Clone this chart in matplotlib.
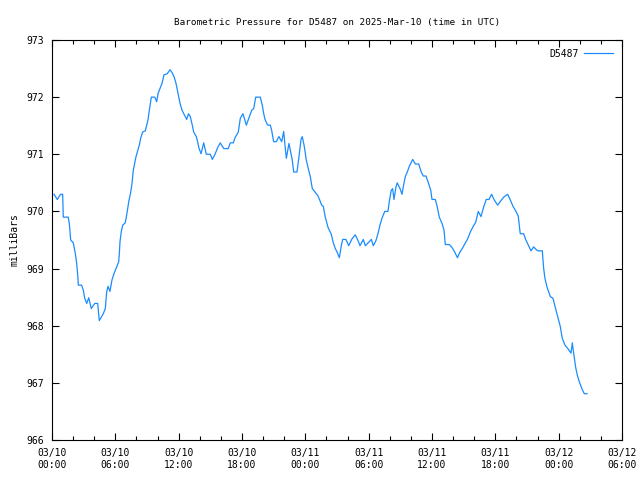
import pandas as pd
import matplotlib
matplotlib.use('Agg')
import matplotlib.pyplot as plt
import matplotlib.dates as mdates

# hours after 2025-03-10 00:00 UTC, and pressure in mb
hours = [0.19, 0.50, 0.82, 1.01, 1.07, 1.54, 1.64, 1.77, 2.02, 2.21, 2.34, 2.46, 2.49, 2.81,
         2.97, 3.10, 3.29, 3.48, 3.72, 4.05, 4.33, 4.42, 4.48, 4.86, 5.05, 5.18, 5.31, 5.49,
         5.68, 5.87, 6.13, 6.32, 6.38, 6.44, 6.56, 6.70, 6.94, 7.13, 7.27, 7.46, 7.58, 7.70,
         7.83, 7.96, 8.08, 8.27, 8.40, 8.59, 8.84, 8.97, 9.09, 9.22, 9.41, 9.73, 9.92, 10.04,
         10.23, 10.42, 10.61, 10.92, 11.18, 11.37, 11.56, 11.75, 11.94, 12.13, 12.32, 12.57,
         12.76, 12.93, 13.10, 13.29, 13.42, 13.67, 13.80, 13.93, 14.12, 14.37, 14.62, 15.00,
         15.19, 15.44, 15.70, 15.94, 16.27, 16.70, 16.89, 17.18, 17.34, 17.65, 17.84, 18.09,
         18.41, 18.66, 18.92, 19.11, 19.30, 19.73, 19.92, 20.06, 20.18, 20.43, 20.68, 20.81,
         21.00, 21.25, 21.50, 21.76, 21.95, 22.07, 22.20, 22.45, 22.58, 22.76, 22.90, 23.21,
         23.40, 23.59, 23.71, 23.90, 24.09, 24.28, 24.47, 24.66, 24.91, 25.17, 25.36, 25.55,
         25.70, 25.89, 26.15, 26.46, 26.65, 26.84, 27.03, 27.22, 27.41, 27.54, 27.85, 28.11,
         28.42, 28.73, 28.99, 29.18, 29.49, 29.68, 30.00, 30.25, 30.44, 30.69, 30.88, 31.07,
         31.26, 31.52, 31.83, 31.95, 32.14, 32.27, 32.40, 32.59, 32.71, 32.97, 33.16, 33.28,
         33.47, 33.66, 33.85, 34.17, 34.42, 34.74, 34.98, 35.17, 35.43, 35.62, 35.88, 36.00,
         36.31, 36.50, 36.69, 36.95, 37.14, 37.26, 37.64, 37.89, 38.15, 38.41, 38.65, 38.87,
         39.13, 39.38, 39.63, 39.88, 40.14, 40.38, 40.64, 40.90, 41.14, 41.40, 41.65, 41.90,
         42.22, 42.53, 42.85, 43.17, 43.42, 43.67, 43.93, 44.17, 44.36, 44.68, 44.87, 45.12,
         45.38, 45.63, 45.88, 46.07, 46.45, 46.58, 46.70, 46.89, 47.21, 47.46, 47.65, 47.91,
         48.15, 48.34, 48.60, 48.91, 49.17, 49.29, 49.42, 49.62, 49.80, 49.99, 50.24, 50.43,
         50.68]
pressure = [970.30, 970.21, 970.30, 970.30, 969.90, 969.90, 969.79, 969.50, 969.45, 969.26,
            969.09, 968.83, 968.71, 968.71, 968.62, 968.48, 968.39, 968.49, 968.30, 968.39,
            968.39, 968.21, 968.09, 968.21, 968.30, 968.59, 968.69, 968.60, 968.80, 968.91,
            969.03, 969.12, 969.26, 969.47, 969.64, 969.76, 969.80, 970.00, 970.17, 970.34,
            970.49, 970.72, 970.84, 970.96, 971.04, 971.16, 971.28, 971.39, 971.41, 971.51,
            971.60, 971.77, 972.00, 972.00, 971.92, 972.06, 972.15, 972.24, 972.39, 972.41,
            972.48, 972.43, 972.36, 972.24, 972.06, 971.89, 971.77, 971.68, 971.61, 971.71,
            971.66, 971.51, 971.39, 971.31, 971.22, 971.10, 971.01, 971.20, 971.00, 971.00,
            970.91, 971.00, 971.12, 971.20, 971.10, 971.10, 971.20, 971.20, 971.29, 971.39,
            971.63, 971.71, 971.51, 971.64, 971.77, 971.80, 972.00, 972.00, 971.86, 971.71,
            971.61, 971.51, 971.51, 971.42, 971.22, 971.22, 971.31, 971.22, 971.40, 971.16,
            970.93, 971.19, 971.07, 970.90, 970.69, 970.69, 970.96, 971.26, 971.31, 971.14,
            970.90, 970.75, 970.61, 970.40, 970.34, 970.28, 970.20, 970.11, 970.09, 969.90,
            969.72, 969.60, 969.45, 969.35, 969.28, 969.19, 969.40, 969.51, 969.51, 969.40,
            969.52, 969.59, 969.49, 969.40, 969.51, 969.40, 969.46, 969.51, 969.40, 969.49,
            969.61, 969.76, 969.88, 970.00, 970.00, 970.17, 970.37, 970.40, 970.21, 970.43,
            970.50, 970.40, 970.30, 970.43, 970.61, 970.69, 970.79, 970.91, 970.83, 970.83,
            970.69, 970.62, 970.62, 970.52, 970.37, 970.21, 970.21, 970.08, 969.90, 969.79,
            969.67, 969.42, 969.42, 969.37, 969.29, 969.19, 969.29, 969.35, 969.44, 969.52,
            969.64, 969.73, 969.81, 970.00, 969.91, 970.08, 970.21, 970.21, 970.30, 970.20,
            970.11, 970.19, 970.26, 970.30, 970.20, 970.09, 970.01, 969.92, 969.61, 969.61,
            969.51, 969.41, 969.31, 969.38, 969.33, 969.31, 969.31, 969.00, 968.83, 968.68,
            968.51, 968.48, 968.34, 968.16, 967.99, 967.78, 967.66, 967.59, 967.52, 967.70,
            967.52, 967.26, 967.11, 967.00, 966.88, 966.81, 966.81]

station = 'D5487'
start = pd.Timestamp('2025-03-10 00:00')
end = pd.Timestamp('2025-03-12 06:00')
times = start + pd.to_timedelta(hours, unit='h')

plt.rcParams['font.family'] = ['DejaVu Sans Mono']
plt.rcParams['font.size'] = 7

fig, ax = plt.subplots(figsize=(6.4, 4.8), dpi=100)
fig.subplots_adjust(left=52/640, right=622/640, top=1-40/480, bottom=1-440/480)

ax.plot(times, pressure, color='#1a8cff', linewidth=0.9, label=station)

ax.set_xlim(start, end)
ax.set_ylim(966, 973)
ax.set_yticks(range(966, 974))
ax.xaxis.set_major_locator(mdates.HourLocator(byhour=[0, 6, 12, 18]))
ax.xaxis.set_minor_locator(mdates.HourLocator(interval=2))
ax.xaxis.set_major_formatter(mdates.DateFormatter('%m/%d\n%H:%M'))

ax.tick_params(which='both', direction='in', top=True, right=True, colors='black')
ax.tick_params(which='major', length=5, width=0.8, pad=6)
ax.tick_params(which='minor', length=3, width=0.8)
ax.tick_params(axis='y', pad=6)

ax.set_ylabel('milliBars', labelpad=5)
ax.set_title('Barometric Pressure for D5487 on 2025-Mar-10 (time in UTC)', fontsize=6.7, pad=11)

ax.legend(loc='upper right', frameon=False, markerfirst=False, handlelength=3.0,
          borderaxespad=0.5, handletextpad=0.6)

plt.savefig('out.png', dpi=100)
